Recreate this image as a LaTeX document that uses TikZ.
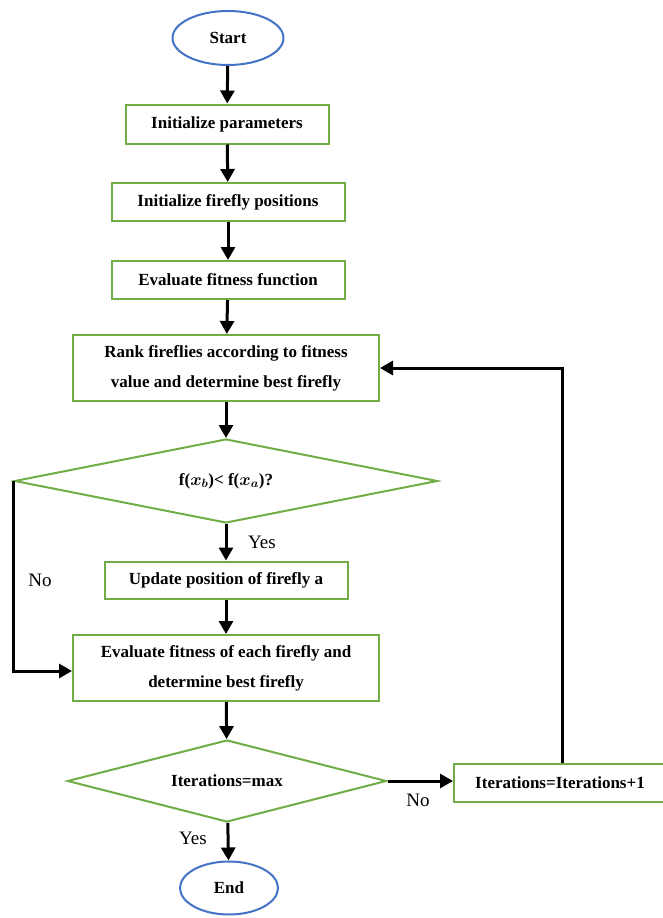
\documentclass[tikz,border=0pt]{standalone}
\usepackage{amsmath, amssymb, bm}
\usepackage{fontspec}
\setmainfont{Liberation Serif}
\usetikzlibrary{positioning, shapes.geometric, arrows.meta}
\definecolor{boxgreen}{RGB}{112,173,71}
\definecolor{ovalblue}{RGB}{68,114,196}
\begin{document}
\begin{tikzpicture}[x=1pt, y=-1pt,
		proc/.style={draw=boxgreen, line width=2pt, rectangle, align=center,
			font=\fontsize{17}{30}\selectfont\bfseries, inner sep=0pt},
		cond/.style={draw=boxgreen, line width=2pt, diamond, aspect=5, inner sep=0pt,
			font=\fontsize{17}{20}\selectfont\bfseries},
		oval/.style={draw=ovalblue, line width=2pt, ellipse, inner sep=0pt,
			font=\fontsize{17}{20}\selectfont\bfseries},
		lab/.style={font=\fontsize{19}{20}\selectfont},
		flow/.style={line width=3pt, -{Triangle[length=13pt, width=14pt]}}]
		\useasboundingbox (0,0) rectangle (662,918);
		
		% 开始与结束
		\node[oval, minimum width=111pt, minimum height=54pt] (start) at (228,38) {Start};
		\node[oval, minimum width=98pt, minimum height=53pt] (stop) at (229,888) {End};
		
		% 处理框
		\node[proc, minimum width=203pt, minimum height=39pt] (initpar) at (227,124) {Initialize parameters};
		\node[proc, minimum width=233pt, minimum height=38pt] (initpos) at (228,202) {Initialize firefly positions};
		\node[proc, minimum width=233pt, minimum height=38pt] (evalfun) at (228,280) {Evaluate fitness function};
		\node[proc, minimum width=306pt, minimum height=66pt] (rank) at (226,368) {Rank fireflies according to fitness\\value and determine best firefly};
		\node[proc, minimum width=243pt, minimum height=37pt] (update) at (226,580) {Update position of firefly a};
		\node[proc, minimum width=306pt, minimum height=66pt] (evaleach) at (226,668) {Evaluate fitness of each firefly and\\determine best firefly};
		\node[proc, minimum width=212pt, minimum height=38pt] (incr) at (560,783) {Iterations=Iterations+1};
		
		% 判断框
		\node[cond, minimum width=423pt, minimum height=84pt] (cmp) at (226,481) {f({\boldmath$x_b$})< f({\boldmath$x_a$})?};
		\node[cond, aspect=3.9, minimum width=319pt, minimum height=82pt] (maxit) at (227,781) {Iterations=max};
		
		% 主流程箭头
		\draw[flow] (start) -- (initpar);
		\draw[flow] (initpar) -- (initpos);
		\draw[flow] (initpos) -- (evalfun);
		\draw[flow] (evalfun) -- (rank);
		\draw[flow] (rank) -- (cmp);
		\draw[flow] (cmp) -- (update);
		\draw[flow] (update) -- (evaleach);
		\draw[flow] (evaleach) -- (maxit);
		\draw[flow] (maxit) -- (stop);
		
		% 分支
		\draw[flow] (cmp.west) |- ([yshift=-3pt]evaleach.west);
		\draw[flow] (maxit.east) -- (maxit.east -| incr.west);
		\draw[flow] ([xshift=2pt]incr.north) |- (rank.east);
		
		% 标注
		\node[lab] (yes1) at (262,542) {Yes};
		\node[lab] (no1) at (40,580) {No};
		\node[lab] (no2) at (418,800) {No};
		\node[lab] (yes2) at (193,838) {Yes};
	\end{tikzpicture}
\end{document}
